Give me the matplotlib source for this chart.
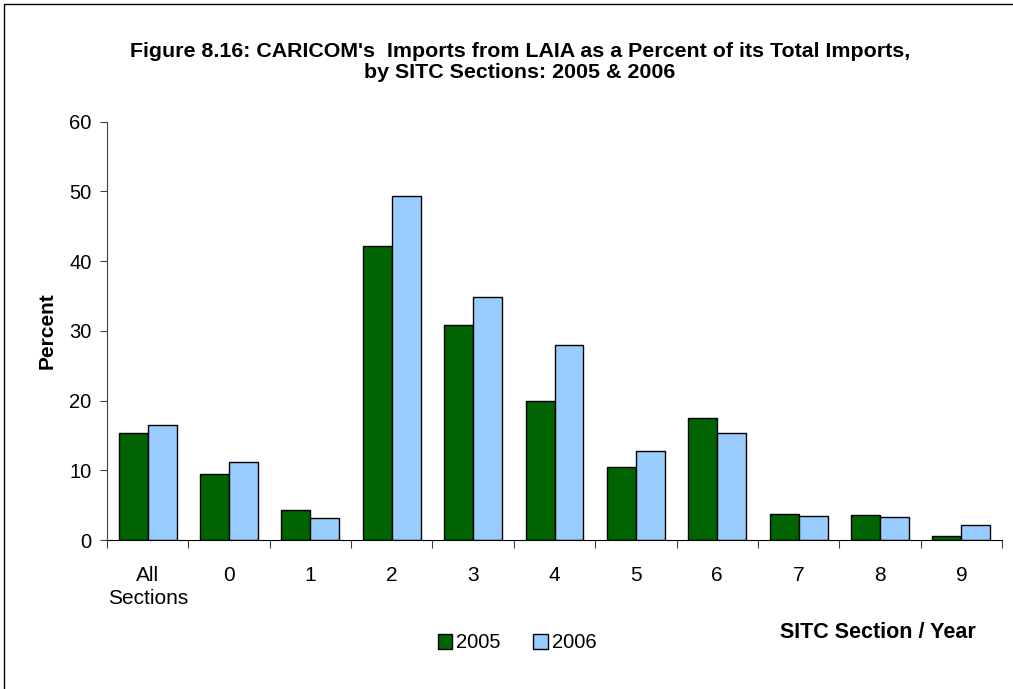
import matplotlib
matplotlib.use("Agg")
import matplotlib.pyplot as plt
from matplotlib.patches import Rectangle, Patch
import numpy as np

plt.rcParams['font.family'] = ['Liberation Sans', 'DejaVu Sans']

categories = ["All\nSections", "0", "1", "2", "3", "4", "5", "6", "7", "8", "9"]
values_2005 = [15.4, 9.4, 4.3, 42.2, 30.8, 20.0, 10.5, 17.5, 3.7, 3.6, 0.6]
values_2006 = [16.45, 11.2, 3.2, 49.4, 34.8, 28.0, 12.8, 15.4, 3.4, 3.35, 2.1]
series_labels = ["2005", "2006"]
colors = ["#006400", "#99CCFF"]

W, H = 1013, 689
fig = plt.figure(figsize=(W / 100, H / 100), dpi=100)
fig.patch.set_facecolor("white")

ax = fig.add_axes([107 / W, (H - 540) / H, (1002 - 107) / W, (540 - 121.7) / H])

x = np.arange(len(categories))
bw = 0.356
ax.bar(x - bw / 2, values_2005, bw, color=colors[0], edgecolor="black", linewidth=1.0, label=series_labels[0])
ax.bar(x + bw / 2, values_2006, bw, color=colors[1], edgecolor="black", linewidth=1.0, label=series_labels[1])

ax.set_xlim(-0.5, len(categories) - 0.5)
ax.set_ylim(0, 60)
ax.set_yticks(np.arange(0, 61, 10))
ax.tick_params(axis="y", labelsize=14.5, length=5, direction="out", color="#404040", pad=6)

ax.set_xticks(np.arange(len(categories) + 1) - 0.5)
ax.set_xticklabels([])
ax.tick_params(axis="x", which="major", length=6, direction="out", color="#404040")
ax.set_xticks(x, minor=True)
ax.set_xticklabels(categories, minor=True, fontsize=15, linespacing=1.22, va="top")
ax.tick_params(axis="x", which="minor", length=0, pad=19)

for s in ["top", "right"]:
    ax.spines[s].set_visible(False)
ax.spines["left"].set_color("#404040")
ax.spines["bottom"].set_color("black")

ax.set_ylabel("Percent", fontsize=15, fontweight="bold", labelpad=9)

fig.text(520 / W, 1 - 62 / H,
         "Figure 8.16: CARICOM's  Imports from LAIA as a Percent of its Total Imports,\nby SITC Sections: 2005 & 2006",
         ha="center", va="center", fontsize=15.4, fontweight="bold", linespacing=1.16)

fig.text(877.5 / W, 1 - 632 / H, "SITC Section / Year", ha="center", va="center",
         fontsize=15.5, fontweight="bold")

handles = [Patch(facecolor=colors[0], edgecolor="black"), Patch(facecolor=colors[1], edgecolor="black")]
fig.legend(handles, series_labels, loc="center", bbox_to_anchor=(517 / W, 1 - 643 / H), ncol=2,
           frameon=False, fontsize=14.5, handlelength=0.72, handleheight=0.72,
           handletextpad=0.2, columnspacing=1.6, borderpad=0.2)

fig.patches.append(Rectangle((4 / W, -0.1), 1.2, 1 - 4 / H + 0.1, transform=fig.transFigure,
                             fill=False, edgecolor="black", linewidth=1.0))

fig.savefig("out.png", dpi=100)
